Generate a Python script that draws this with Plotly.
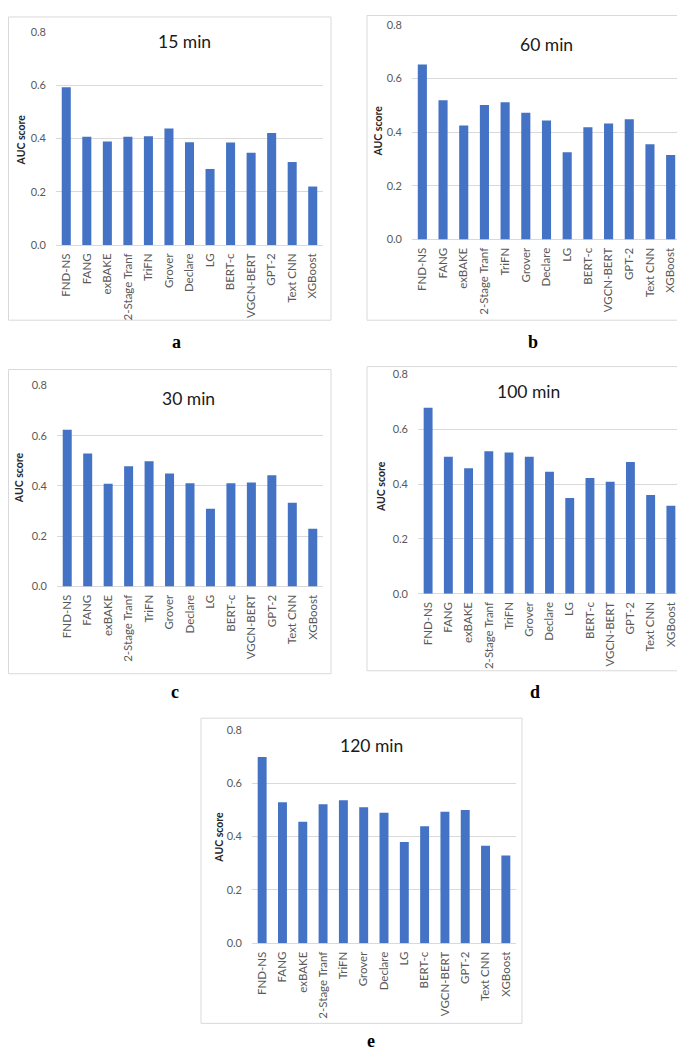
import plotly.graph_objects as go

W, H = 685, 1050

categories = ["FND-NS", "FANG", "exBAKE", "2-Stage Tranf", "TriFN", "Grover",
              "Declare", "LG", "BERT-c", "VGCN-BERT", "GPT-2", "Text CNN", "XGBoost"]

auc_15 = [0.593, 0.407, 0.389, 0.407, 0.409, 0.438, 0.386, 0.286, 0.385, 0.347, 0.421, 0.312, 0.220]
auc_60 = [0.652, 0.519, 0.425, 0.501, 0.512, 0.472, 0.444, 0.325, 0.418, 0.432, 0.448, 0.355, 0.315]
auc_30 = [0.623, 0.529, 0.409, 0.478, 0.498, 0.450, 0.411, 0.309, 0.411, 0.414, 0.443, 0.333, 0.230]
auc_100 = [0.679, 0.500, 0.458, 0.520, 0.515, 0.500, 0.445, 0.349, 0.422, 0.409, 0.481, 0.360, 0.321]
auc_120 = [0.698, 0.528, 0.455, 0.521, 0.536, 0.510, 0.489, 0.380, 0.439, 0.493, 0.499, 0.366, 0.329]

titles = ["15 min", "60 min", "30 min", "100 min", "120 min"]
letters = ["a", "b", "c", "d", "e"]
series = [auc_15, auc_60, auc_30, auc_100, auc_120]
y_ticks = [0.0, 0.2, 0.4, 0.6, 0.8]

# layout geometry in pixels: plot area (x0, x1, y_top, y_bottom), box (x0, x1, y0, y1)
plot_px = [(48, 315, 17.3, 233), (404, 673, 10, 227.3), (49, 315, 375, 578.7),
           (410, 673, 364, 586), (244, 508, 723.7, 940)]
box_px = [(0.5, 323, 2, 309), (359, 681, 0.5, 309), (0.5, 323, 359, 667),
          (359, 683, 356, 664), (193, 514, 712, 1021)]
title_px = [(176, 27), (538, 30), (180, 388), (520, 381), (363, 740)]
ytitle_px = [(13, 127), (370, 118), (11, 469), (373, 478), (211, 833)]
letter_px = [(168, 331), (525, 331), (167, 685), (527, 685), (363, 1039)]

BAR = "#4472C4"
GRID = "#d9d9d9"
TICK = "#595959"
FONT = "Lato, 'Open Sans', sans-serif"

def px_x(x):
    return x / W

def px_y(y):
    return 1 - y / H

fig = go.Figure()
shapes = []
annotations = []
layout = {}

for i, vals in enumerate(series):
    n = "" if i == 0 else str(i + 1)
    fig.add_trace(go.Bar(x=categories, y=vals, marker=dict(color=BAR, line=dict(width=0)),
                         xaxis="x" + n, yaxis="y" + n, showlegend=False))
    x0, x1, yt, yb = plot_px[i]
    layout["xaxis" + n] = dict(
        domain=[px_x(x0), px_x(x1)], anchor="y" + n, type="category",
        range=[-0.5, len(categories) - 0.5],
        tickangle=-90, tickfont=dict(family=FONT, size=11.5, color=TICK),
        showgrid=False, showline=False, ticks="", ticklabelstandoff=5,
        fixedrange=True)
    layout["yaxis" + n] = dict(
        domain=[px_y(yb), px_y(yt)], anchor="x" + n, range=[0, 0.8],
        tickvals=y_ticks, ticktext=[f"{v:.1f}" for v in y_ticks],
        tickfont=dict(family=FONT, size=11, color=TICK),
        showgrid=True, gridcolor=GRID, gridwidth=1,
        zeroline=True, zerolinecolor=GRID, zerolinewidth=1,
        showline=False, ticks="", ticklabelstandoff=9, fixedrange=True)
    bx0, bx1, by0, by1 = box_px[i]
    shapes.append(dict(type="rect", xref="paper", yref="paper",
                       x0=px_x(bx0), x1=px_x(bx1), y0=px_y(by1), y1=px_y(by0),
                       line=dict(color=GRID, width=1), fillcolor="rgba(0,0,0,0)",
                       layer="below"))
    tx, ty = title_px[i]
    annotations.append(dict(text=titles[i], x=px_x(tx), y=px_y(ty), xref="paper", yref="paper",
                            showarrow=False, xanchor="center", yanchor="middle",
                            font=dict(family=FONT, size=17.5, color="#1a1a1a")))
    ax, ay = ytitle_px[i]
    annotations.append(dict(text="<b>AUC score</b>", x=px_x(ax), y=px_y(ay), xref="paper", yref="paper",
                            showarrow=False, xanchor="center", yanchor="middle", textangle=-90,
                            font=dict(family=FONT, size=10.5, color="#262626")))
    lx, ly = letter_px[i]
    annotations.append(dict(text="<b>" + letters[i] + "</b>", x=px_x(lx), y=px_y(ly), xref="paper", yref="paper",
                            showarrow=False, xanchor="center", yanchor="middle",
                            font=dict(family="'Liberation Serif', 'DejaVu Serif', serif", size=18, color="#000000")))

fig.update_layout(
    width=W, height=H, margin=dict(l=0, r=0, t=0, b=0),
    paper_bgcolor="white", plot_bgcolor="rgba(0,0,0,0)",
    bargap=0.56, shapes=shapes, annotations=annotations,
    **layout)

fig.write_html("out.html", config={"displayModeBar": False})
